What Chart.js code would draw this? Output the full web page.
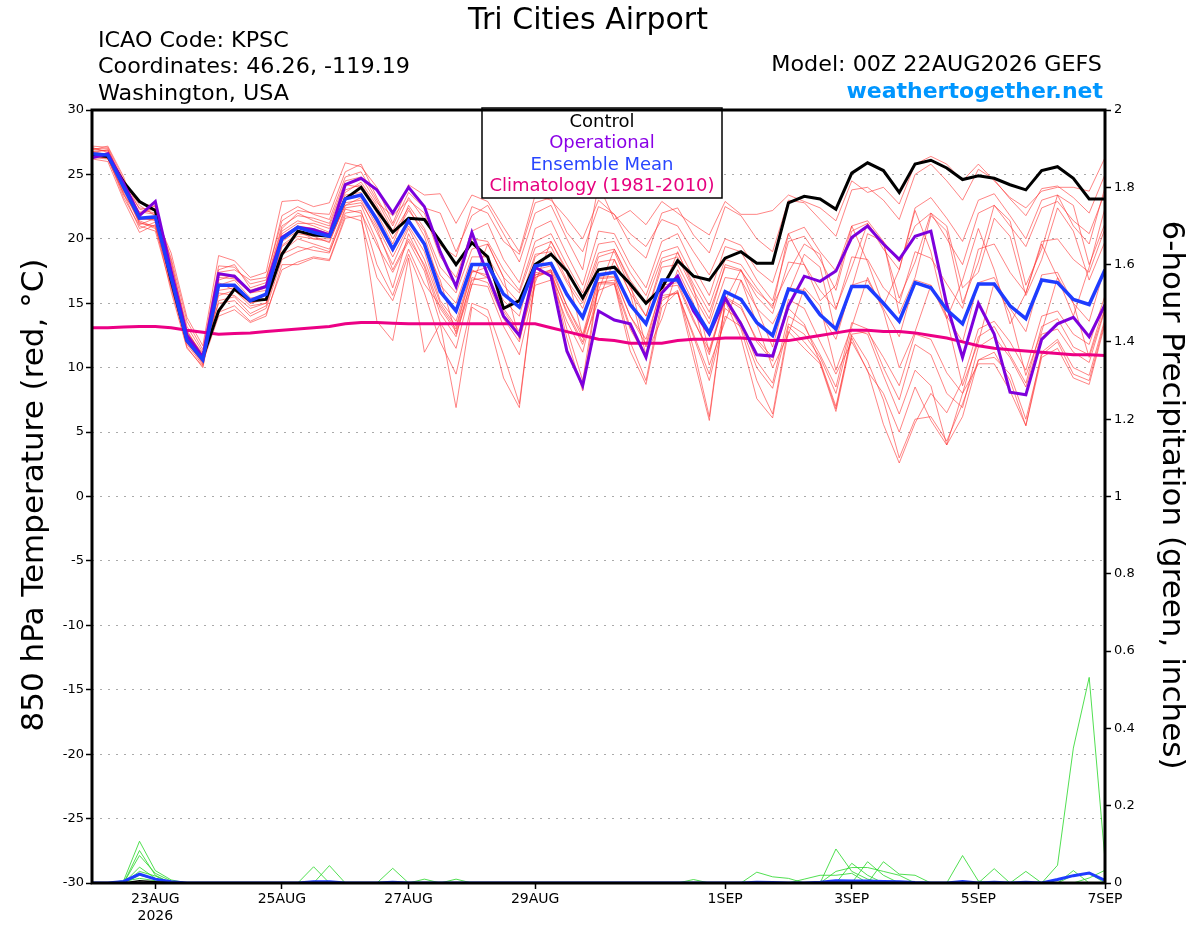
<!DOCTYPE html>
<html>
<head>
<meta charset="utf-8">
<title>Tri Cities Airport - GEFS 850 hPa Temperature</title>
<script src="https://cdn.jsdelivr.net/npm/chart.js"></script>
<style>
  html, body { margin: 0; padding: 0; background: #fff; }
  #wrap { position: relative; width: 1200px; height: 927px; }
</style>
</head>
<body>
<div id="wrap"><canvas id="meteogram"></canvas></div>
<script>
// forecast lead times (hours after 00Z 22AUG2026), 6-hourly
const leadHours = [0, 6, 12, 18, 24, 30, 36, 42, 48, 54, 60, 66, 72, 78, 84, 90,
  96, 102, 108, 114, 120, 126, 132, 138, 144, 150, 156, 162, 168, 174, 180, 186,
  192, 198, 204, 210, 216, 222, 228, 234, 240, 246, 252, 258, 264, 270, 276, 282,
  288, 294, 300, 306, 312, 318, 324, 330, 336, 342, 348, 354, 360, 366, 372, 378, 384];

const tickHours = [24, 72, 120, 168, 240, 288, 336, 384];
const tickLabels = [['23AUG', '2026'], '25AUG', '27AUG', '29AUG', '1SEP', '3SEP', '5SEP', '7SEP'];

// 850 hPa temperature (C)
const control = [26.5, 26.4, 24.4, 22.9, 22.2, 16.8, 12.1, 10.8,
  14.4, 16.1, 15.2, 15.3, 18.8, 20.6, 20.3, 20.2, 23.1, 24.0, 22.2, 20.5, 21.6, 21.5,
  19.8, 18.0, 19.7, 18.6, 14.6, 15.2, 18.0, 18.8, 17.5, 15.4, 17.6, 17.8, 16.5, 15.0,
  16.2, 18.3, 17.1, 16.8, 18.5, 19.0, 18.1,
  18.1, 22.8, 23.3, 23.1, 22.3, 25.1, 25.9, 25.3, 23.6, 25.8, 26.1, 25.5, 24.6, 24.9,
  24.7, 24.2, 23.8, 25.3, 25.6, 24.7, 23.1, 23.1];

const operational = [26.3, 26.6, 24.3, 21.8, 22.9, 17.5, 12.5, 10.8,
  17.3, 17.1, 15.9, 16.3, 20.1, 20.9, 20.7, 20.3, 24.2, 24.7, 23.8, 22.0, 24.0, 22.5,
  19.0, 16.3, 20.5, 17.2, 14.0, 12.5, 17.8, 17.1, 11.3, 8.6, 14.4, 13.7, 13.4, 10.8,
  15.8, 17.1, 14.4, 12.6, 15.4, 13.4, 11.0,
  10.9, 14.8, 17.1, 16.7, 17.5, 20.1, 21.0, 19.6, 18.4, 20.2, 20.6, 14.9, 10.8, 15.0,
  12.6, 8.1, 7.9, 12.2, 13.4, 13.9, 12.4, 14.9];

const ensembleMean = [26.6, 26.5, 24.0, 21.6, 21.7, 17.0, 12.1, 10.6,
  16.4, 16.4, 15.2, 15.7, 20.0, 20.9, 20.5, 20.2, 23.1, 23.4, 21.5, 19.2, 21.4, 19.6,
  15.9, 14.4, 18.0, 18.0, 15.7, 14.7, 17.9, 18.1, 15.7, 13.9, 17.2, 17.4, 14.9, 13.4,
  16.8, 16.8, 14.7, 12.7, 15.9, 15.3, 13.5,
  12.5, 16.1, 15.8, 14.1, 13.0, 16.3, 16.3, 15.0, 13.6, 16.6, 16.2, 14.5, 13.4, 16.5,
  16.5, 14.8, 13.8, 16.8, 16.6, 15.3, 14.9, 17.6];

const climatology = [13.1, 13.1, 13.15, 13.2, 13.2, 13.1, 12.9, 12.75,
  12.6, 12.65, 12.7, 12.8, 12.9, 13.0, 13.1, 13.2, 13.4, 13.5, 13.5, 13.45, 13.4, 13.4,
  13.4, 13.4, 13.4, 13.4, 13.4, 13.4, 13.4, 13.1, 12.8, 12.5, 12.2, 12.1, 11.9, 11.9,
  11.9, 12.1, 12.2, 12.2, 12.3, 12.3, 12.2,
  12.1, 12.1, 12.3, 12.5, 12.7, 12.9, 12.9, 12.8, 12.8, 12.7, 12.5, 12.3, 12.0, 11.7,
  11.5, 11.4, 11.3, 11.2, 11.1, 11.0, 11.0, 10.95];

// ensemble members, 850 hPa temperature (C)
const member01 = [27.2, 27.1, 24.6, 22.3, 22.0, 18.5, 13.6, 11.4,
  17.9, 17.8, 16.5, 16.8, 21.8, 22.5, 21.9, 21.5, 24.8, 25.2, 23.0, 20.6, 23.2, 21.5,
  19.5, 18.6, 22.5, 22.0, 19.8, 18.8, 22.8, 23.2, 20.5, 19.0, 22.5, 21.9, 19.6, 18.5, 22.0, 22.4, 20.3, 18.9, 22.5, 21.8, 20.0,
  19.0, 23.0, 22.8, 21.5, 20.2, 23.8, 24.0, 23.0, 21.5, 25.0, 25.8, 24.5, 23.0, 25.4, 24.6, 23.1, 21.8, 23.9, 24.1, 23.2, 22.0, 25.0];
const member02 = [26.8, 26.9, 24.2, 21.2, 21.0, 17.8, 12.9, 10.9,
  14.3, 14.8, 13.6, 14.2, 17.6, 18.2, 18.6, 18.4, 21.8, 21.4, 17.0, 15.2, 18.8, 15.8,
  12.0, 9.5, 15.0, 14.5, 11.0, 7.2, 17.0, 17.6, 13.0, 9.0, 16.6, 16.6, 12.0, 9.0, 15.2, 16.0, 11.5, 6.2, 15.3, 13.0, 9.0,
  6.4, 13.2, 12.0, 10.5, 7.0, 12.5, 10.5, 7.5, 3.0, 6.0, 6.2, 4.3, 7.2, 10.6, 10.8, 9.5, 6.0, 11.0, 12.0, 9.5, 9.0, 13.6];
const member03 = [26.3, 26.2, 23.5, 20.8, 21.3, 16.4, 11.8, 10.2,
  17.0, 16.9, 15.8, 16.0, 20.6, 21.4, 21.0, 20.5, 23.8, 24.2, 22.4, 20.0, 22.2, 20.6,
  17.2, 15.8, 19.2, 19.6, 17.0, 15.8, 19.3, 19.8, 17.6, 15.4, 18.9, 19.2, 16.8, 15.1, 18.5, 18.9, 16.5, 14.3, 17.8, 17.5, 15.9,
  14.8, 17.4, 19.6, 18.8, 14.6, 17.8, 21.2, 19.6, 15.4, 18.2, 22.0, 21.0, 16.2, 17.4, 21.6, 20.2, 15.6, 18.4, 22.4, 20.6, 16.8, 19.8];
const member04 = [26.6, 26.6, 23.9, 21.9, 22.4, 17.2, 12.4, 10.5,
  15.2, 15.5, 14.2, 14.8, 18.8, 19.4, 19.1, 18.9, 22.3, 22.0, 19.5, 17.4, 19.8, 17.5,
  13.5, 11.5, 16.5, 16.3, 13.2, 11.0, 16.4, 16.8, 13.6, 11.2, 16.0, 16.5, 13.0, 10.8, 15.4, 15.8, 12.6, 9.5, 14.6, 13.6, 10.5,
  8.8, 14.0, 13.2, 11.0, 8.5, 13.5, 13.0, 10.0, 7.5, 11.8, 11.0, 8.0, 6.9, 11.6, 12.4, 10.8, 8.5, 12.6, 13.0, 11.2, 10.4, 14.5];
const member05 = [27.0, 26.8, 24.5, 22.6, 21.8, 18.9, 13.9, 11.7,
  18.7, 18.3, 17.0, 17.4, 22.9, 23.0, 22.5, 22.8, 25.9, 25.6, 24.0, 21.2, 24.2, 23.4,
  23.5, 21.2, 23.4, 22.9, 20.9, 19.0, 23.4, 23.0, 21.6, 20.0, 23.0, 21.9, 20.4, 19.4, 21.5, 21.0, 19.0, 17.2, 20.0, 19.5, 17.6,
  16.6, 20.4, 20.9, 19.0, 17.5, 21.0, 21.4, 19.8, 18.2, 21.0, 22.0, 20.0, 18.0, 22.0, 22.6, 21.0, 19.4, 22.4, 22.9, 21.4, 20.4, 23.6];
const member06 = [26.4, 26.3, 23.2, 21.0, 20.6, 16.2, 11.6, 10.0,
  16.0, 16.2, 15.0, 15.3, 19.5, 20.4, 20.2, 19.7, 22.8, 23.0, 20.5, 18.0, 20.8, 18.4,
  15.0, 13.2, 17.5, 17.2, 14.6, 12.8, 17.6, 17.9, 14.8, 12.3, 17.0, 17.1, 14.0, 11.8, 16.4, 16.6, 13.8, 11.0, 15.5, 14.8, 12.0,
  10.5, 15.3, 14.6, 12.0, 9.5, 12.0, 9.8, 5.6, 2.6, 5.7, 8.0, 6.5, 9.0, 13.0, 13.6, 12.0, 9.8, 14.0, 14.4, 12.6, 11.8, 15.6];
const member07 = [26.9, 27.2, 24.8, 21.5, 21.5, 17.6, 12.6, 11.0,
  17.4, 17.6, 16.8, 17.0, 21.4, 22.2, 22.0, 21.9, 25.2, 25.8, 23.2, 21.0, 23.6, 22.4,
  22.0, 19.0, 21.8, 22.6, 20.4, 18.2, 22.0, 22.6, 20.0, 17.6, 24.2, 21.5, 22.2, 21.1, 22.9, 22.0, 21.1, 20.3, 22.9, 21.9, 21.9,
  22.2, 23.4, 22.9, 22.4, 21.4, 24.5, 23.6, 24.0, 22.7, 25.8, 26.4, 25.8, 24.5, 25.8, 24.5, 23.2, 22.4, 23.7, 24.0, 24.0, 23.7, 26.3];
const member08 = [26.5, 26.4, 23.7, 22.1, 21.9, 16.8, 12.2, 10.4,
  14.0, 14.5, 13.5, 14.0, 18.0, 18.0, 18.5, 18.3, 21.6, 21.8, 13.6, 12.1, 18.5, 11.2,
  13.4, 6.9, 14.7, 13.9, 9.2, 6.9, 17.0, 17.5, 12.3, 8.2, 16.5, 16.5, 11.3, 8.7, 14.7, 15.9, 10.8, 5.9, 15.2, 12.3, 7.6,
  6.1, 12.8, 11.5, 10.3, 6.6, 12.3, 9.7, 8.0, 5.0, 8.5, 5.9, 4.0, 8.0, 10.3, 10.3, 8.2, 5.5, 10.8, 11.5, 9.2, 8.7, 13.4];
const member09 = [26.2, 26.0, 23.0, 20.5, 21.1, 15.9, 11.5, 10.1,
  15.8, 15.6, 14.6, 15.0, 19.0, 20.0, 19.6, 19.2, 22.4, 22.6, 19.8, 16.2, 20.4, 17.8,
  14.2, 12.4, 17.0, 16.6, 13.8, 12.0, 17.2, 17.4, 14.2, 11.8, 15.2, 18.4, 15.8, 11.0, 13.8, 17.6, 15.0, 10.2, 13.6, 16.8, 13.4,
  10.0, 12.6, 16.2, 14.8, 9.8, 13.2, 17.0, 14.4, 10.0, 12.8, 16.4, 13.8, 8.6, 12.0, 16.6, 14.2, 9.4, 12.8, 17.0, 15.0, 10.8, 14.6];
const member10 = [26.7, 26.9, 24.4, 22.0, 22.6, 17.4, 12.5, 10.7,
  17.6, 18.0, 16.2, 16.6, 21.0, 21.8, 21.6, 21.2, 24.5, 24.8, 22.8, 21.8, 23.0, 22.0,
  18.6, 17.0, 20.6, 21.2, 18.4, 16.6, 20.8, 21.4, 18.8, 16.4, 20.6, 20.4, 18.0, 16.2, 19.8, 20.4, 17.8, 15.6, 19.4, 19.0, 16.8,
  15.2, 19.8, 20.2, 18.4, 16.0, 20.6, 21.2, 19.2, 17.6, 22.4, 23.2, 21.6, 19.8, 23.0, 23.5, 21.8, 20.0, 23.0, 23.4, 21.0, 19.6, 24.0];
const member11 = [27.1, 26.7, 23.8, 21.4, 20.9, 16.6, 12.0, 10.3,
  16.4, 16.8, 15.4, 15.6, 20.2, 21.0, 20.8, 20.4, 23.4, 23.6, 21.2, 19.0, 21.6, 19.4,
  16.8, 12.6, 16.4, 19.6, 17.0, 12.2, 16.6, 19.8, 17.4, 12.4, 16.0, 19.2, 16.6, 11.6, 15.8, 19.0, 16.2, 11.2, 15.2, 17.6, 14.6,
  11.6, 16.2, 16.0, 14.2, 12.2, 16.4, 16.8, 14.6, 12.4, 16.8, 16.4, 14.0, 12.0, 16.6, 17.0, 14.6, 12.8, 17.2, 17.4, 15.0, 13.6, 17.8];
const member12 = [26.5, 26.6, 24.1, 22.4, 22.2, 18.1, 13.2, 11.2,
  15.0, 15.2, 14.0, 14.6, 18.4, 19.0, 19.4, 19.0, 22.0, 22.2, 18.0, 15.6, 19.2, 16.5,
  14.8, 13.0, 17.4, 17.8, 15.2, 14.0, 18.6, 19.4, 16.8, 15.0, 18.6, 19.0, 16.2, 14.0, 18.2, 18.6, 16.0, 13.8, 18.0, 17.6, 15.5,
  14.2, 18.2, 18.0, 16.0, 14.5, 18.6, 18.4, 16.2, 15.0, 19.0, 18.5, 16.5, 14.6, 19.2, 19.6, 17.4, 15.8, 19.8, 20.0, 18.4, 17.4, 20.8];
const member13 = [26.8, 26.5, 23.4, 21.7, 21.4, 17.0, 12.3, 10.6,
  16.6, 16.0, 15.0, 15.4, 19.8, 20.6, 20.0, 20.0, 22.6, 23.2, 21.0, 18.6, 21.0, 19.0,
  15.2, 13.6, 17.6, 17.0, 14.4, 12.6, 17.4, 17.2, 14.4, 12.0, 16.6, 16.8, 13.2, 11.0, 15.6, 15.8, 12.4, 9.0, 14.0, 13.2, 10.0,
  8.4, 13.4, 12.6, 10.8, 8.0, 13.0, 12.6, 9.4, 6.4, 9.8, 8.6, 4.0, 6.2, 10.6, 11.2, 9.0, 5.5, 11.2, 12.2, 10.0, 9.4, 13.8];
const member14 = [26.3, 26.4, 24.0, 21.1, 21.6, 16.3, 11.9, 10.4,
  17.2, 17.0, 16.0, 16.4, 20.8, 22.0, 21.4, 21.0, 24.2, 24.0, 22.0, 19.6, 22.6, 20.8,
  17.8, 16.4, 20.0, 19.8, 17.6, 16.0, 19.8, 20.4, 18.0, 15.8, 19.6, 19.8, 17.4, 15.6, 19.0, 19.4, 17.0, 14.8, 18.4, 18.0, 16.2,
  14.6, 20.4, 18.0, 15.2, 16.4, 21.0, 18.2, 14.8, 17.6, 22.2, 19.0, 13.8, 16.8, 20.8, 17.6, 13.4, 15.8, 19.6, 17.0, 14.0, 17.8, 22.4];
const member15 = [27.0, 27.0, 24.3, 22.8, 22.5, 18.3, 12.8, 10.9,
  15.6, 16.0, 14.8, 15.0, 19.4, 20.2, 20.0, 19.8, 22.6, 22.8, 20.8, 17.6, 20.0, 18.0,
  14.6, 12.8, 16.8, 17.0, 14.0, 12.4, 17.2, 17.6, 14.8, 12.6, 16.9, 17.0, 14.0, 12.2, 16.2, 16.4, 13.6, 11.4, 15.4, 14.6, 12.2,
  10.8, 14.6, 13.4, 10.4, 6.8, 12.6, 12.8, 10.8, 8.6, 12.6, 12.2, 9.6, 8.0, 12.4, 13.2, 11.0, 8.8, 13.2, 13.8, 11.6, 11.0, 15.0];
const member16 = [26.6, 26.2, 23.6, 21.3, 20.8, 17.3, 12.7, 11.1,
  16.8, 17.2, 15.8, 16.2, 20.4, 21.2, 21.2, 20.8, 23.6, 24.4, 22.6, 20.4, 22.4, 20.2,
  16.4, 15.0, 18.6, 18.6, 16.4, 15.0, 18.8, 19.0, 16.6, 14.6, 18.2, 18.4, 15.8, 14.0, 17.8, 18.0, 15.6, 13.4, 17.0, 16.8, 14.6,
  13.4, 15.8, 18.8, 17.8, 12.6, 16.2, 20.4, 19.8, 14.2, 17.0, 21.8, 20.6, 15.0, 18.2, 22.6, 21.4, 16.4, 19.2, 23.4, 22.6, 18.0, 21.2];

// 6-hour precipitation (inches)
const precipA = [0, 0, 0.006, 0.108, 0.032, 0.008, 0, 0,  0, 0, 0, 0, 0, 0, 0, 0,
  0, 0, 0, 0, 0, 0, 0, 0,  0, 0, 0, 0, 0, 0, 0, 0,  0, 0, 0, 0, 0, 0, 0, 0,
  0, 0, 0, 0, 0, 0, 0, 0.088,  0.03, 0.01, 0, 0, 0, 0, 0, 0,  0, 0, 0, 0, 0, 0, 0, 0,  0];
const precipB = [0, 0, 0, 0.084, 0.02, 0, 0, 0,  0, 0, 0, 0, 0, 0, 0.042, 0,
  0, 0, 0, 0, 0, 0, 0, 0,  0, 0, 0, 0, 0, 0, 0, 0,  0, 0, 0, 0, 0, 0, 0, 0,
  0, 0, 0, 0, 0, 0, 0, 0,  0, 0, 0, 0, 0, 0, 0, 0.071,  0.005, 0, 0, 0, 0, 0.046, 0.349, 0.532,  0.06];
const precipC = [0, 0, 0, 0.071, 0.025, 0.005, 0, 0,  0, 0, 0, 0, 0, 0, 0, 0.045,
  0, 0, 0, 0, 0, 0, 0, 0,  0, 0, 0, 0, 0, 0, 0, 0,  0, 0, 0, 0, 0, 0, 0, 0,
  0, 0, 0, 0, 0, 0, 0, 0,  0.051, 0.02, 0, 0, 0, 0, 0, 0,  0, 0.037, 0, 0, 0, 0, 0, 0,  0];
const precipD = [0, 0, 0, 0.041, 0.012, 0, 0, 0,  0, 0, 0, 0, 0, 0, 0, 0,
  0, 0, 0, 0.038, 0, 0, 0, 0,  0, 0, 0, 0, 0, 0, 0, 0,  0, 0, 0, 0, 0, 0, 0, 0,
  0, 0, 0.028, 0.016, 0.012, 0, 0, 0,  0, 0.055, 0.02, 0, 0, 0, 0, 0,  0, 0, 0, 0.03, 0, 0, 0, 0,  0];
const precipE = [0, 0, 0, 0.03, 0.018, 0, 0, 0,  0, 0, 0, 0, 0, 0, 0, 0,
  0, 0, 0, 0, 0, 0.01, 0, 0.01,  0, 0, 0, 0, 0, 0, 0, 0,  0, 0, 0, 0, 0, 0, 0.009, 0,
  0, 0, 0, 0, 0, 0, 0, 0,  0, 0, 0.055, 0.023, 0.02, 0, 0, 0,  0, 0, 0, 0, 0, 0, 0.032, 0,  0];
const precipF = [0, 0, 0, 0.02, 0.01, 0, 0, 0,  0, 0, 0, 0, 0, 0, 0, 0,
  0, 0, 0, 0, 0, 0, 0, 0,  0, 0, 0, 0, 0, 0, 0, 0,  0, 0, 0, 0, 0, 0, 0, 0,
  0, 0, 0, 0, 0, 0, 0, 0.03,  0.04, 0.04, 0.03, 0.02, 0, 0, 0, 0,  0, 0, 0, 0, 0, 0, 0, 0.013,  0.033];
const precipG = [0, 0, 0.004, 0.012, 0.006, 0, 0, 0,  0, 0, 0, 0, 0, 0, 0, 0,
  0, 0, 0, 0, 0, 0, 0, 0,  0, 0, 0, 0, 0, 0, 0, 0,  0, 0, 0, 0, 0, 0, 0, 0,
  0, 0, 0, 0, 0, 0.01, 0.02, 0.02,  0.025, 0, 0, 0, 0, 0, 0, 0,  0, 0, 0, 0, 0, 0, 0.02, 0.025,  0];
const precipMean = [0, 0, 0.004, 0.023, 0.01, 0.003, 0, 0,  0, 0, 0, 0, 0, 0, 0.003, 0.003,
  0, 0, 0, 0.002, 0, 0, 0, 0,  0, 0, 0, 0, 0, 0, 0, 0,  0, 0, 0, 0, 0, 0, 0, 0,
  0, 0, 0.002, 0.001, 0, 0, 0.002, 0.006,  0.005, 0.005, 0.004, 0.003, 0.001, 0, 0, 0.004,
  0, 0.002, 0, 0.002, 0, 0.009, 0.019, 0.026,  0.007];
const precipControl = [0, 0, 0, 0.006, 0.003, 0, 0, 0,  0, 0, 0, 0, 0, 0, 0, 0,
  0, 0, 0, 0, 0, 0, 0, 0,  0, 0, 0, 0, 0, 0, 0, 0,  0, 0, 0, 0, 0, 0, 0, 0,
  0, 0, 0, 0, 0, 0, 0, 0,  0, 0, 0, 0, 0, 0, 0, 0,  0, 0, 0, 0, 0, 0, 0, 0,  0];

const members = [member01, member02, member03, member04, member05, member06, member07, member08,
  member09, member10, member11, member12, member13, member14, member15, member16];
const memberPrecip = [precipA, precipB, precipC, precipD, precipE, precipF, precipG];

const toPoints = vals => vals.map((v, i) => ({ x: leadHours[i], y: v }));

const line = (vals, color, width, axis, order) => ({
  data: toPoints(vals),
  borderColor: color,
  borderWidth: width,
  yAxisID: axis,
  order: order,
  pointRadius: 0,
  tension: 0,
  fill: false
});

const datasets = [];
members.forEach(m => datasets.push(line(m, 'rgba(255,50,50,0.75)', 0.8, 'y', 6)));
memberPrecip.forEach(p => datasets.push(line(p, 'rgba(40,215,40,0.9)', 0.9, 'y2', 5)));
datasets.push(line(precipControl, '#000', 1.5, 'y2', 4));
datasets.push(line(precipMean, '#1e3cff', 3, 'y2', 4));
datasets.push(line(climatology, '#ec0085', 3, 'y', 3));
datasets.push(line(control, '#000', 3, 'y', 2));
datasets.push(line(operational, '#7d00dc', 3, 'y', 1));
datasets.push(line(ensembleMean, '#1e3cff', 3.5, 'y', 0));

function text(ctx, str, x, y, font, color, align, sx) {
  ctx.save();
  ctx.font = font;
  ctx.fillStyle = color;
  ctx.textAlign = align;
  ctx.textBaseline = 'alphabetic';
  ctx.translate(x, y);
  ctx.scale(sx || 1, 1);
  ctx.fillText(str, 0, 0);
  ctx.restore();
}

const decor = {
  id: 'decor',
  afterDatasetsDraw(chart) {
    const ctx = chart.ctx;
    const a = chart.chartArea;
    // legend box
    ctx.save();
    ctx.fillStyle = '#fff';
    ctx.fillRect(482, 108, 240, 90);
    ctx.lineWidth = 1.5;
    ctx.strokeStyle = '#000';
    ctx.strokeRect(482, 108, 240, 90);
    ctx.restore();
    text(ctx, 'Control', 602, 127, '18px "DejaVu Sans"', '#000', 'center');
    text(ctx, 'Operational', 602, 148, '18px "DejaVu Sans"', '#8a00e6', 'center');
    text(ctx, 'Ensemble Mean', 602, 170, '18px "DejaVu Sans"', '#2846ff', 'center');
    text(ctx, 'Climatology (1981-2010)', 602, 191, '18px "DejaVu Sans"', '#e6007e', 'center');
    // plot frame
    ctx.save();
    ctx.lineWidth = 3;
    ctx.strokeStyle = '#000';
    ctx.strokeRect(a.left, a.top, a.right - a.left, a.bottom - a.top);
    ctx.restore();
  },
  afterDraw(chart) {
    const ctx = chart.ctx;
    text(ctx, 'Tri Cities Airport', 588, 29, '30px "DejaVu Sans"', '#000', 'center');
    text(ctx, 'ICAO Code: KPSC', 98, 47, '21px "DejaVu Sans"', '#000', 'left', 1.06);
    text(ctx, 'Coordinates: 46.26, -119.19', 98, 73, '21px "DejaVu Sans"', '#000', 'left', 1.06);
    text(ctx, 'Washington, USA', 98, 100, '21px "DejaVu Sans"', '#000', 'left', 1.06);
    text(ctx, 'Model: 00Z 22AUG2026 GEFS', 1102, 71, '21px "DejaVu Sans"', '#000', 'right', 1.06);
    text(ctx, 'weathertogether.net', 1103, 98, 'bold 22px "DejaVu Sans"', '#0096ff', 'right');
    // axis titles
    ctx.save();
    ctx.translate(43, 495);
    ctx.rotate(-Math.PI / 2);
    text(ctx, '850 hPa Temperature (red, \u00B0C)', 0, 0, '31px "DejaVu Sans"', '#000', 'center');
    ctx.restore();
    ctx.save();
    ctx.translate(1163, 495);
    ctx.rotate(Math.PI / 2);
    text(ctx, '6-hour Precipitation (green, inches)', 0, 0, '31px "DejaVu Sans"', '#000', 'center');
    ctx.restore();
  }
};

Chart.defaults.font.family = '"DejaVu Sans", sans-serif';
Chart.defaults.color = '#000';

new Chart(document.getElementById('meteogram'), {
  type: 'line',
  data: { datasets: datasets },
  options: {
    responsive: true,
    maintainAspectRatio: false,
    animation: false,
    events: [],
    layout: { padding: { top: 110, left: 0, right: 0, bottom: 0 } },
    plugins: { legend: { display: false }, tooltip: { enabled: false } },
    scales: {
      x: {
        type: 'linear',
        min: 0,
        max: 384,
        afterBuildTicks: s => { s.ticks = tickHours.map(v => ({ value: v })); },
        afterFit: s => { s.height = 44; },
        grid: { drawOnChartArea: false, tickLength: 6, tickColor: '#000', tickWidth: 1.5 },
        border: { display: false },
        ticks: {
          autoSkip: false,
          maxRotation: 0,
          padding: 2,
          font: { size: 14 },
          callback: (v, i) => tickLabels[i]
        }
      },
      y: {
        position: 'left',
        min: -30,
        max: 30,
        afterFit: s => { s.width = 92; },
        ticks: { stepSize: 5, padding: 2, font: { size: 13 } },
        grid: { color: '#aaaaaa', lineWidth: 1, tickColor: '#000', tickLength: 6, tickWidth: 1.5, tickBorderDash: [] },
        border: { display: false, dash: [2, 6] }
      },
      y2: {
        position: 'right',
        min: 0,
        max: 2,
        afterFit: s => { s.width = 95; },
        ticks: { stepSize: 0.2, padding: 3, font: { size: 13 }, callback: v => String(Math.round(v * 10) / 10) },
        grid: { drawOnChartArea: false, tickColor: '#000', tickLength: 6, tickWidth: 1.5 },
        border: { display: false }
      }
    }
  },
  plugins: [decor]
});
</script>
</body>
</html>
